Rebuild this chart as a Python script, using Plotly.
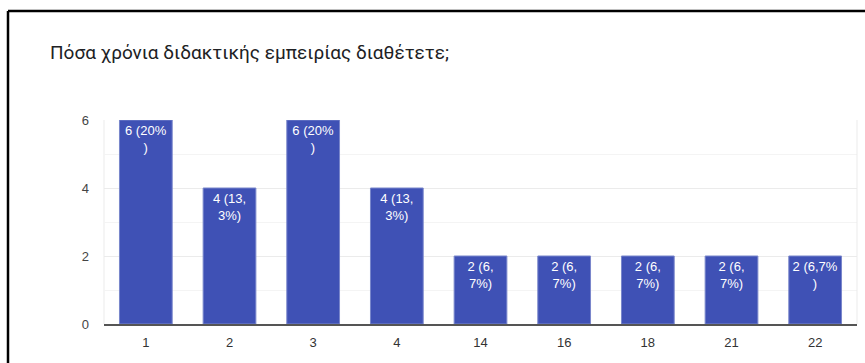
import plotly.graph_objects as go

# Years of teaching experience and number of respondents
years = ["1", "2", "3", "4", "14", "16", "18", "21", "22"]
counts = [6, 4, 6, 4, 2, 2, 2, 2, 2]
bar_labels = [
    "6 (20%<br>)", "4 (13,<br>3%)", "6 (20%<br>)", "4 (13,<br>3%)",
    "2 (6,<br>7%)", "2 (6,<br>7%)", "2 (6,<br>7%)", "2 (6,<br>7%)", "2 (6,7%<br>)",
]
y_ticks = [0, 2, 4, 6]

W, H = 865, 363
L, R, T, B = 104, 8, 120, 39
pw, ph = W - L - R, H - T - B

def px_x(x):
    return (x - L) / pw

def px_y(y):
    return (H - B - y) / ph

fig = go.Figure(
    go.Bar(
        x=years,
        y=counts,
        text=bar_labels,
        textposition="inside",
        insidetextanchor="end",
        constraintext="none",
        textangle=0,
        textfont=dict(family="Arial, Liberation Sans, sans-serif", size=13, color="white"),
        marker=dict(color="#3f51b5", line=dict(color="#7986cb", width=1)),
        hoverinfo="skip",
    )
)

# frame along the left and top edges of the card
fig.add_shape(type="line", xref="paper", yref="paper",
              x0=px_x(8), x1=px_x(870), y0=px_y(11), y1=px_y(11),
              line=dict(color="black", width=2.5))
fig.add_shape(type="line", xref="paper", yref="paper",
              x0=px_x(8), x1=px_x(8), y0=px_y(11), y1=px_y(370),
              line=dict(color="black", width=2.5))

fig.add_annotation(
    text="Πόσα χρόνια διδακτικής εμπειρίας διαθέτετε;",
    xref="paper", yref="paper", x=px_x(48), y=px_y(52),
    xanchor="left", yanchor="middle", showarrow=False,
    font=dict(family="Roboto, Arial, sans-serif", size=19, color="#202124"),
)

fig.update_layout(
    width=W, height=H,
    margin=dict(l=L, r=R, t=T, b=B),
    paper_bgcolor="white",
    plot_bgcolor="white",
    bargap=0.37,
    showlegend=False,
    font=dict(family="Arial, Liberation Sans, sans-serif", size=13, color="#444444"),
)
fig.update_xaxes(
    type="category",
    showgrid=False,
    showline=True, linecolor="#555555", linewidth=1.5,
    ticks="", ticklabelstandoff=6,
    tickfont=dict(size=13, color="#333333"),
    mirror=False,
)
fig.update_yaxes(
    range=[0, 6],
    tickvals=y_ticks,
    showgrid=True, gridcolor="#ebebeb", gridwidth=1,
    minor=dict(dtick=1, showgrid=True, gridcolor="#f4f4f4"),
    zeroline=False,
    showline=False,
    ticks="", ticklabelstandoff=14,
    tickfont=dict(size=13, color="#444444"),
)
# light edges of the chart area
fig.add_shape(type="line", xref="paper", yref="paper",
              x0=1, x1=1, y0=0, y1=1, line=dict(color="#ebebeb", width=1))
fig.add_shape(type="line", xref="paper", yref="paper",
              x0=0, x1=0, y0=0, y1=1, line=dict(color="#ebebeb", width=1), layer="below")

fig.write_html("out.html")
